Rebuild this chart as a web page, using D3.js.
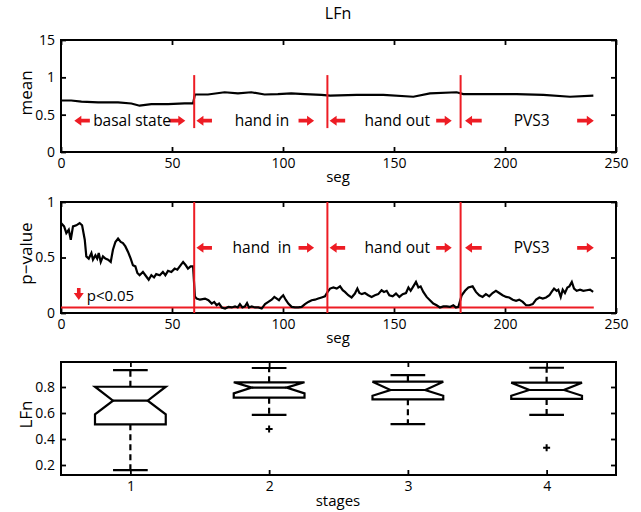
<!DOCTYPE html>
<html><head><meta charset="utf-8">
<script src="https://cdn.jsdelivr.net/npm/d3@7"></script>
<style>body{margin:0;background:#fff} text{font-family:"Open Sans",sans-serif;fill:#000}</style>
</head><body><svg id="c" width="641" height="512"></svg>
<script>
// ---------- data ----------
const meanSeg = [0,4.6,9.2,16.7,25.7,31.7,35.4,40.7,48.2,55.7,59.5,60.3,66.2,73.7,79.7,85.7,91.7,97.7,103.7,109.7,117.3,121.2,133.2,145.2,158.7,166.2,178.2,181.2,193.2,205.2,217.3,229.3,239.8];
const meanVal = [0.69,0.69,0.675,0.665,0.665,0.65,0.62,0.64,0.64,0.65,0.65,0.77,0.77,0.80,0.785,0.80,0.77,0.775,0.785,0.775,0.765,0.755,0.765,0.765,0.74,0.785,0.80,0.775,0.775,0.775,0.765,0.74,0.755];
const pSeg = [0,1.4,2.4,3.5,4.4,5.4,6.9,8.4,9.5,10.7,11.4,12.5,13.7,14.4,15.5,16.3,17,17.9,18.9,20,21.2,22.4,23.4,24.5,25.7,26.9,27.9,29,30.2,31.4,32.4,33.5,34.4,35.4,36.9,38,39.5,40.7,41.9,42.9,44.5,45.9,47,48.2,49.7,51.2,52.4,53.5,55,56.2,57.2,58.4,59.5,60.3,61.1,62.6,64.9,66.4,67.9,69,70.1,71.2,72.4,73.9,75.4,76.9,78.4,79.6,80.6,81.7,82.9,83.8,84.7,85.9,87.4,88.9,90.4,91.9,93.4,94.9,96.1,97.2,98.2,99.1,100.1,101.2,102.4,103.9,105.4,106.9,108.4,109.9,111.4,112.9,114.4,115.9,117.4,118.9,120.1,121.2,122.7,124.2,125.7,126.9,127.9,129.4,130.9,132.4,133.5,134.4,135.5,136.9,138.4,139.9,141.4,142.9,144.4,145.5,146.7,147.9,149.4,150.9,152.4,153.9,155.4,156.5,157.5,158.7,159.9,161,162,163.2,164.7,166.2,167.7,169.2,170.7,172.2,173.7,175.2,176.7,177.9,179,180.5,182,183.5,185.4,186.9,188.4,189.9,191.4,192.9,194.4,195.9,197.4,198.9,200.5,201.9,203.5,205,206.4,208,209.5,210.9,212.5,214,215.5,217,218.5,220,221,222.1,223.3,224,225.1,226,227,228.1,229,230.1,231.1,232.3,233.8,235.3,236.8,238.3,239.7];
const pVal = [0.81,0.78,0.72,0.75,0.66,0.78,0.79,0.81,0.79,0.66,0.51,0.49,0.54,0.48,0.52,0.49,0.54,0.46,0.51,0.49,0.48,0.46,0.57,0.64,0.67,0.64,0.63,0.60,0.55,0.49,0.43,0.42,0.36,0.34,0.37,0.34,0.30,0.34,0.32,0.35,0.34,0.37,0.34,0.38,0.37,0.40,0.39,0.42,0.46,0.43,0.40,0.42,0.42,0.15,0.13,0.12,0.13,0.115,0.085,0.10,0.07,0.085,0.05,0.04,0.055,0.05,0.06,0.05,0.08,0.05,0.06,0.09,0.05,0.06,0.05,0.05,0.04,0.08,0.10,0.12,0.145,0.13,0.115,0.14,0.16,0.12,0.085,0.055,0.05,0.05,0.055,0.08,0.10,0.115,0.12,0.13,0.14,0.15,0.19,0.22,0.23,0.22,0.24,0.205,0.19,0.16,0.14,0.175,0.22,0.18,0.17,0.18,0.16,0.145,0.16,0.17,0.205,0.19,0.20,0.16,0.15,0.175,0.145,0.17,0.18,0.23,0.20,0.24,0.28,0.23,0.24,0.19,0.145,0.115,0.085,0.07,0.05,0.06,0.06,0.055,0.07,0.05,0.055,0.16,0.20,0.23,0.24,0.19,0.16,0.145,0.17,0.15,0.18,0.20,0.18,0.16,0.145,0.14,0.12,0.11,0.12,0.10,0.07,0.07,0.08,0.12,0.14,0.13,0.14,0.16,0.19,0.22,0.20,0.21,0.145,0.21,0.18,0.23,0.24,0.28,0.22,0.20,0.21,0.20,0.205,0.21,0.19];
const stageBounds = [60,120,180];
const stageNames = ["basal state","hand in","hand out","PVS3"];
const stageLabelSeg = [32,90.5,151.5,212];
const leftArrowSeg = [[6,13],[61,68],[121,128],[182,189.5]];
const rightArrowSeg = [[49,56],[107,114],[169,176],[232.5,240]];
const pThreshold = 0.05;
const segTicks = [0,50,100,150,200,250];
const meanTicks = [0,0.5,1,1.5];
const meanTickLabels = ["0","0.5","1","15"];
const pTicks = [0,0.5,1];
const stages = [1,2,3,4];
const boxQ1 = [0.513,0.718,0.705,0.708];
const boxQ3 = [0.802,0.836,0.841,0.833];
const boxMed = [0.695,0.795,0.777,0.777];
const notchLo = [0.59,0.751,0.733,0.733];
const notchHi = [0.802,0.836,0.841,0.833];
const whiskLo = [0.16,0.585,0.515,0.585];
const whiskHi = [0.93,0.946,0.892,0.948];
const outStage = [2,4];
const outVal = [0.477,0.333];
const lfnTicks = [0.2,0.4,0.6,0.8];

// ---------- drawing ----------
const svg = d3.select("#c");
const RED = "#ed1c24";
const L = 61, R = 616;
const x = d3.scaleLinear().domain([0,250]).range([L,R]);

function frame(g, y0, y1){
  g.append("rect").attr("x",L).attr("y",y0).attr("width",R-L).attr("height",y1-y0)
   .attr("fill","none").attr("stroke","#000").attr("stroke-width",2);
}
function styleAxis(a, fs){
  a.select(".domain").remove();
  a.selectAll(".tick line").attr("stroke","#000").attr("stroke-width",1.8);
  a.selectAll("text").style("font-size",fs+"px").attr("fill","#000");
}
function axesFor(xs, ys, y0, y1, yt, ytl, xt, xtl){
  const g = svg.append("g");
  const ab = g.append("g").attr("transform",`translate(0,${y1})`)
    .call(d3.axisBottom(xs).tickValues(xt).tickFormat((d,i)=>xtl[i]).tickSize(-5).tickPadding(6));
  styleAxis(ab,14);
  const at = g.append("g").attr("transform",`translate(0,${y0})`)
    .call(d3.axisTop(xs).tickValues(xt).tickFormat("").tickSize(-5));
  styleAxis(at,14);
  const al = g.append("g").attr("transform",`translate(${L},0)`)
    .call(d3.axisLeft(ys).tickValues(yt).tickFormat((d,i)=>ytl[i]).tickSize(-5).tickPadding(6));
  styleAxis(al,14);
  const ar = g.append("g").attr("transform",`translate(${R},0)`)
    .call(d3.axisRight(ys).tickValues(yt).tickFormat("").tickSize(-5));
  styleAxis(ar,14);
  frame(g,y0,y1);
}
function arrowH(g, xa, xb, y, dir){ // dir -1 left, +1 right
  const tip = dir<0? xa : xb, tail = dir<0? xb : xa;
  const hl = 7*dir, hh = 5, sw = 1.8;
  const p = d3.path();
  p.moveTo(tip,y); p.lineTo(tip-hl,y-hh); p.lineTo(tip-hl,y-sw);
  p.lineTo(tail,y-sw); p.lineTo(tail,y+sw); p.lineTo(tip-hl,y+sw); p.lineTo(tip-hl,y+hh); p.closePath();
  g.append("path").attr("d",p.toString()).attr("fill",RED);
}
const line = (xs,ys)=>d3.line().x(d=>xs(d[0])).y(d=>ys(d[1]));

// Title
svg.append("text").attr("x",338).attr("y",19).attr("text-anchor","middle").style("font-size","16px").text("LFn");

// ---- Panel 1: mean ----
{
  const y0=40,y1=152;
  const y = d3.scaleLinear().domain([0,1.5]).range([y1,y0]);
  axesFor(x,y,y0,y1,meanTicks,meanTickLabels,segTicks,segTicks.map(String));
  const g = svg.append("g");
  g.append("path").datum(meanSeg.map((s,i)=>[s,meanVal[i]])).attr("d",line(x,y))
   .attr("fill","none").attr("stroke","#000").attr("stroke-width",2.2);
  stageBounds.forEach(b=>g.append("line").attr("x1",x(b)).attr("x2",x(b)).attr("y1",y(1.03)).attr("y2",y(0.32))
    .attr("stroke",RED).attr("stroke-width",2));
  const ay = y(0.42);
  stageNames.forEach((n,i)=>{
    arrowH(g,x(leftArrowSeg[i][0]),x(leftArrowSeg[i][1]),ay,-1);
    arrowH(g,x(rightArrowSeg[i][0]),x(rightArrowSeg[i][1]),ay,1);
    g.append("text").attr("x",x(stageLabelSeg[i])).attr("y",ay+5).attr("text-anchor","middle")
     .style("font-size","15.5px").text(n);
  });
  svg.append("text").attr("transform",`translate(32,${(y0+y1)/2-3}) rotate(-90)`).attr("text-anchor","middle")
   .style("font-size","17px").text("mean");
  svg.append("text").attr("x",338).attr("y",182).attr("text-anchor","middle").style("font-size","15px").text("seg");
}

// ---- Panel 2: p-value ----
{
  const y0=202,y1=313;
  const y = d3.scaleLinear().domain([0,1]).range([y1,y0]);
  axesFor(x,y,y0,y1,pTicks,pTicks.map(String),segTicks,segTicks.map(String));
  const g = svg.append("g");
  g.append("line").attr("x1",x(0)).attr("x2",x(240)).attr("y1",y(pThreshold)).attr("y2",y(pThreshold))
   .attr("stroke",RED).attr("stroke-width",2);
  g.append("path").datum(pSeg.map((s,i)=>[s,pVal[i]])).attr("d",line(x,y))
   .attr("fill","none").attr("stroke","#000").attr("stroke-width",2.2);
  stageBounds.forEach(b=>g.append("line").attr("x1",x(b)).attr("x2",x(b)).attr("y1",y0).attr("y2",y1)
    .attr("stroke",RED).attr("stroke-width",2));
  const ay = y(0.587);
  for(let i=1;i<4;i++){
    arrowH(g,x(leftArrowSeg[i][0]),x(leftArrowSeg[i][1]),ay,-1);
    arrowH(g,x(rightArrowSeg[i][0]),x(rightArrowSeg[i][1]),ay,1);
    g.append("text").attr("x",x(stageLabelSeg[i])).attr("y",ay+5).attr("text-anchor","middle")
     .style("font-size","15.5px").attr("xml:space","preserve").text(stageNames[i]==="hand in"?"hand  in":stageNames[i]);
  }
  // down arrow p<0.05
  const ax = x(8), ty = 288, by = 300;
  const p = d3.path();
  p.moveTo(ax,by); p.lineTo(ax-5,by-7); p.lineTo(ax-1.8,by-7); p.lineTo(ax-1.8,ty); p.lineTo(ax+1.8,ty); p.lineTo(ax+1.8,by-7); p.lineTo(ax+5,by-7); p.closePath();
  g.append("path").attr("d",p.toString()).attr("fill",RED);
  g.append("text").attr("x",ax+8).attr("y",301).style("font-size","15px").text("p<0.05");
  svg.append("text").attr("transform",`translate(32,${(y0+y1)/2-4}) rotate(-90)`).attr("text-anchor","middle")
   .style("font-size","17px").text("p\u2212value");
  svg.append("text").attr("x",338).attr("y",343).attr("text-anchor","middle").style("font-size","15px").text("seg");
}

// ---- Panel 3: box plot ----
{
  const y0=362,y1=475;
  const xs = d3.scaleLinear().domain([0.5,4.5]).range([L,R]);
  const y = d3.scaleLinear().domain([0.2,0.8]).range([465,387]);
  axesFor(xs,y,y0,y1,lfnTicks,lfnTicks.map(d=>d.toFixed(1)),stages,stages.map(String));
  const g = svg.append("g");
  const w = 0.255, nw = 0.125, cw = 0.125;
  stages.forEach((s,i)=>{
    const pts = [
      [s-w,boxQ1[i]],[s-w,notchLo[i]],[s-nw,boxMed[i]],[s-w,notchHi[i]],[s-w,boxQ3[i]],
      [s+w,boxQ3[i]],[s+w,notchHi[i]],[s+nw,boxMed[i]],[s+w,notchLo[i]],[s+w,boxQ1[i]]
    ];
    g.append("path").attr("d",d3.line().x(d=>xs(d[0])).y(d=>y(d[1]))(pts)+"Z")
     .attr("fill","none").attr("stroke","#000").attr("stroke-width",2.2).attr("stroke-linejoin","miter");
    g.append("line").attr("x1",xs(s-nw)).attr("x2",xs(s+nw)).attr("y1",y(boxMed[i])).attr("y2",y(boxMed[i]))
     .attr("stroke","#000").attr("stroke-width",2.2);
    // whiskers
    [[boxQ3[i],whiskHi[i]],[boxQ1[i],whiskLo[i]]].forEach(([a,b])=>{
      g.append("line").attr("x1",xs(s)).attr("x2",xs(s)).attr("y1",y(a)).attr("y2",y(b))
       .attr("stroke","#000").attr("stroke-width",2.2).attr("stroke-dasharray","6,4");
      g.append("line").attr("x1",xs(s-cw)).attr("x2",xs(s+cw)).attr("y1",y(b)).attr("y2",y(b))
       .attr("stroke","#000").attr("stroke-width",2.2);
    });
  });
  outStage.forEach((s,i)=>{
    const cx = xs(s), cy = y(outVal[i]);
    g.append("path").attr("d",`M${cx-3.5},${cy}H${cx+3.5}M${cx},${cy-3.5}V${cy+3.5}`)
     .attr("stroke","#000").attr("stroke-width",2);
  });
  svg.append("text").attr("transform",`translate(32,${(y0+y1)/2-4}) rotate(-90)`).attr("text-anchor","middle")
   .style("font-size","17px").text("LFn");
  svg.append("text").attr("x",338).attr("y",506).attr("text-anchor","middle").style("font-size","15px").text("stages");
}
</script></body></html>
